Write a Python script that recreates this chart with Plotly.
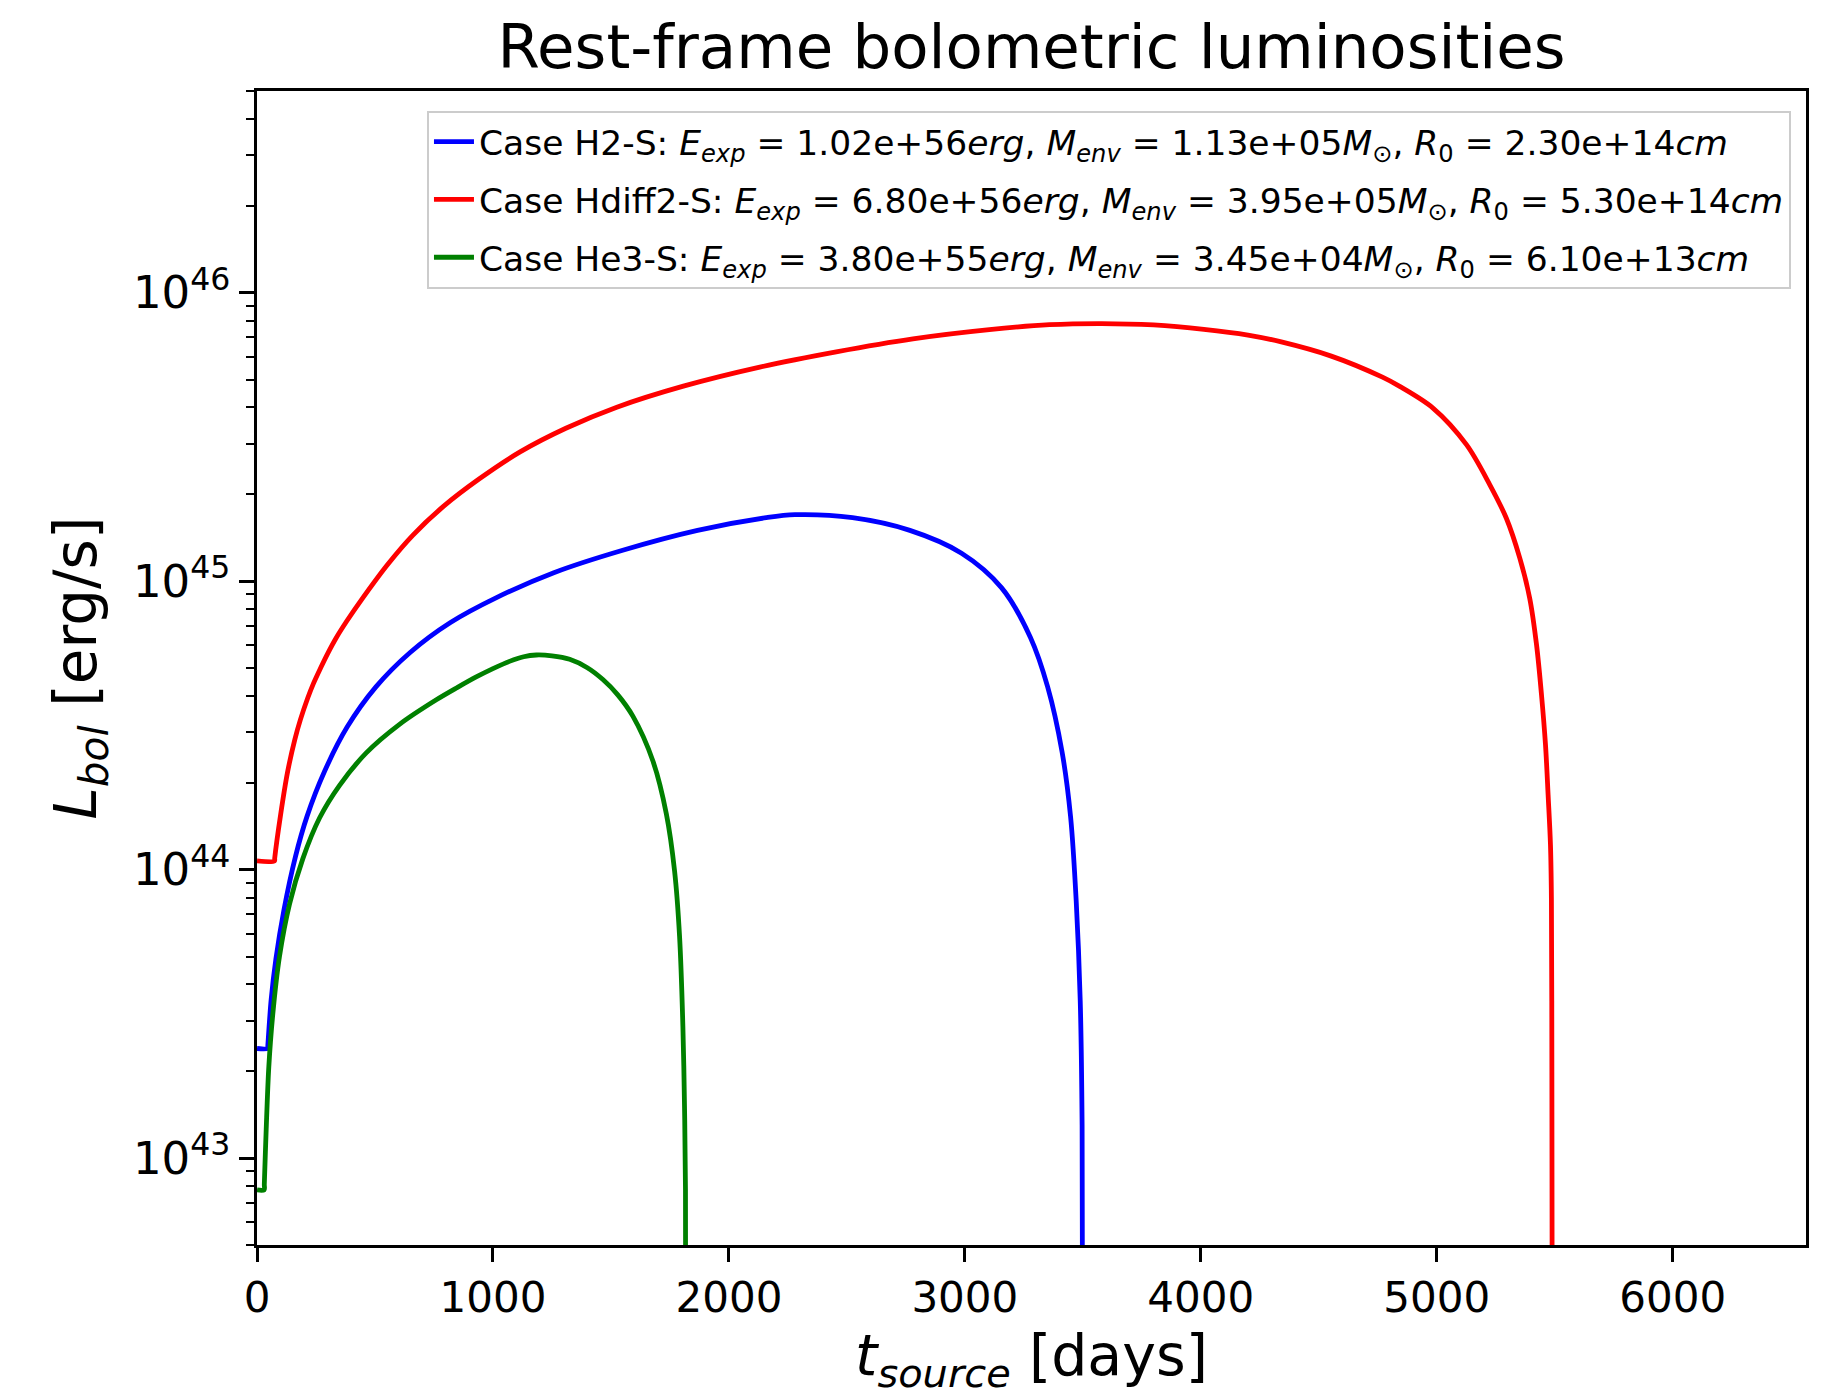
import plotly.graph_objects as go

# Rest-frame bolometric light curves (time in days, luminosity in erg/s)
t_h2 = [0, 45, 46, 60, 80, 114, 163, 212, 285, 382, 504, 649, 820, 1015, 1258,
        1550, 1867, 2159, 2280, 2524, 2767, 2986, 3156, 3278, 3351, 3412,
        3448, 3472, 3489, 3497, 3502]
L_h2 = [2.40e43, 2.40e43, 2.46e43, 3.55e43, 4.90e43, 7.24e43, 1.11e44, 1.53e44,
        2.18e44, 3.12e44, 4.30e44, 5.66e44, 7.19e44, 8.77e44, 1.07e45, 1.28e45,
        1.50e45, 1.66e45, 1.70e45, 1.66e45, 1.50e45, 1.25e45, 9.48e44, 6.38e44,
        4.30e44, 2.56e44, 1.53e44, 7.78e43, 3.52e43, 1.30e43, 1.0e41]

t_hdiff2 = [0, 74, 75, 100, 130, 160, 184, 215, 239, 270, 300, 336, 380, 444,
            552, 660, 790, 941, 1115, 1309, 1525, 1807, 2131, 2455, 2780, 3104,
            3359, 3580, 3800, 4013, 4200, 4337, 4553, 4770, 4843, 4984, 5126,
            5225, 5295, 5352, 5394, 5423, 5444, 5461, 5472, 5482, 5486, 5488,
            5489, 5490]
L_hdiff2 = [1.072e44, 1.072e44, 1.096e44, 1.549e44, 2.188e44, 2.818e44,
            3.311e44, 3.936e44, 4.416e44, 5.012e44, 5.623e44, 6.368e44,
            7.261e44, 8.650e44, 1.138e45, 1.442e45, 1.816e45, 2.259e45,
            2.805e45, 3.388e45, 4.009e45, 4.742e45, 5.521e45, 6.237e45,
            6.918e45, 7.447e45, 7.745e45, 7.816e45, 7.727e45, 7.464e45,
            7.129e45, 6.761e45, 6.026e45, 5.093e45, 4.732e45, 3.981e45,
            2.972e45, 2.158e45, 1.652e45, 1.202e45, 8.730e44, 6.012e44,
            4.036e44, 2.704e44, 1.816e44, 1.219e44, 7.943e43, 1.995e43,
            3.981e42, 1.0e41]

t_he3 = [0, 30, 31, 39, 50, 67, 95, 138, 194, 265, 350, 463, 604, 760, 850,
         929, 1000, 1070, 1130, 1184, 1250, 1325, 1400, 1466, 1530, 1593,
         1678, 1735, 1770, 1791, 1805, 1812, 1816, 1819]
L_he3 = [7.76e42, 7.76e42, 8.13e42, 1.26e43, 2.07e43, 3.16e43, 4.98e43,
         7.60e43, 1.09e44, 1.51e44, 1.96e44, 2.54e44, 3.19e44, 3.88e44,
         4.285e44, 4.656e44, 4.977e44, 5.272e44, 5.470e44, 5.546e44,
         5.508e44, 5.358e44, 5.012e44, 4.560e44, 4.027e44, 3.404e44,
         2.38e44, 1.56e44, 9.86e43, 5.86e43, 2.86e43, 1.49e43, 7.76e42, 1.0e41]

case_names = [
    "Case H2-S: <i>E<sub>exp</sub></i> = 1.02e+56<i>erg</i>, <i>M<sub>env</sub></i> = 1.13e+05<i>M</i><sub>⊙</sub>, <i>R</i><sub>0</sub> = 2.30e+14<i>cm</i>",
    "Case Hdiff2-S: <i>E<sub>exp</sub></i> = 6.80e+56<i>erg</i>, <i>M<sub>env</sub></i> = 3.95e+05<i>M</i><sub>⊙</sub>, <i>R</i><sub>0</sub> = 5.30e+14<i>cm</i>",
    "Case He3-S: <i>E<sub>exp</sub></i> = 3.80e+55<i>erg</i>, <i>M<sub>env</sub></i> = 3.45e+04<i>M</i><sub>⊙</sub>, <i>R</i><sub>0</sub> = 6.10e+13<i>cm</i>",
]
case_colors = ["#0000ff", "#ff0000", "#008000"]

x_ticks = [0, 1000, 2000, 3000, 4000, 5000, 6000]
y_ticks = [1e43, 1e44, 1e45, 1e46]
y_ticktext = ["10<sup>43</sup>", "10<sup>44</sup>", "10<sup>45</sup>", "10<sup>46</sup>"]

FONT = "DejaVu Sans"

fig = go.Figure()
series = [(t_h2, L_h2), (t_hdiff2, L_hdiff2), (t_he3, L_he3)]
for i, ((t, L), name, color) in enumerate(zip(series, case_names, case_colors)):
    fig.add_trace(go.Scatter(
        x=t, y=L, mode="lines", name=name, legendgroup=f"g{i}",
        line=dict(color=color, width=4.8, shape="spline", smoothing=0.9),
        cliponaxis=True,
    ))

# minor ticks at 2..9 x each decade
minor_vals = [m * 10.0 ** e for e in range(42, 47) for m in range(2, 10)]

fig.update_layout(
    width=1839, height=1397, autosize=False,
    margin=dict(l=257, r=33, t=91, b=152),
    paper_bgcolor="white", plot_bgcolor="white",
    font=dict(family=FONT, color="black"),
    title=dict(text="Rest-frame bolometric luminosities", x=0.5, xref="paper",
               xanchor="center", y=1 - 47 / 1397, yanchor="middle",
               font=dict(size=61, family=FONT)),
    showlegend=True,
    legend=dict(x=0.9903, y=0.983, xanchor="right", yanchor="top",
                bgcolor="rgba(255,255,255,0.8)", bordercolor="#cccccc",
                borderwidth=2, font=dict(size=34.5, family=FONT),
                tracegroupgap=10, itemwidth=40),
)

fig.update_xaxes(
    range=[0, 6565], tickvals=x_ticks, ticks="outside", ticklen=14, tickwidth=2.5,
    tickcolor="black", tickfont=dict(size=42, family=FONT),
    showline=True, linecolor="black", linewidth=2.5, mirror=True,
    showgrid=False, zeroline=False,
    title=dict(text="<i>t</i><sub><i>source</i></sub> [days]",
               font=dict(size=57, family=FONT), standoff=14),
)
fig.update_yaxes(
    type="log", range=[42.699, 46.699], tickvals=y_ticks, ticktext=y_ticktext,
    ticks="outside", ticklen=15, tickwidth=2.5, tickcolor="black",
    tickfont=dict(size=45, family=FONT),
    minor=dict(tickvals=minor_vals, ticks="outside", ticklen=8, tickwidth=2,
               tickcolor="black", showgrid=False),
    showline=True, linecolor="black", linewidth=2.5, mirror=True,
    showgrid=False, zeroline=False,
    title=dict(text="<i>L</i><sub><i>bol</i></sub> [erg/s]",
               font=dict(size=58, family=FONT), standoff=18),
)

fig.write_html("out.html")
